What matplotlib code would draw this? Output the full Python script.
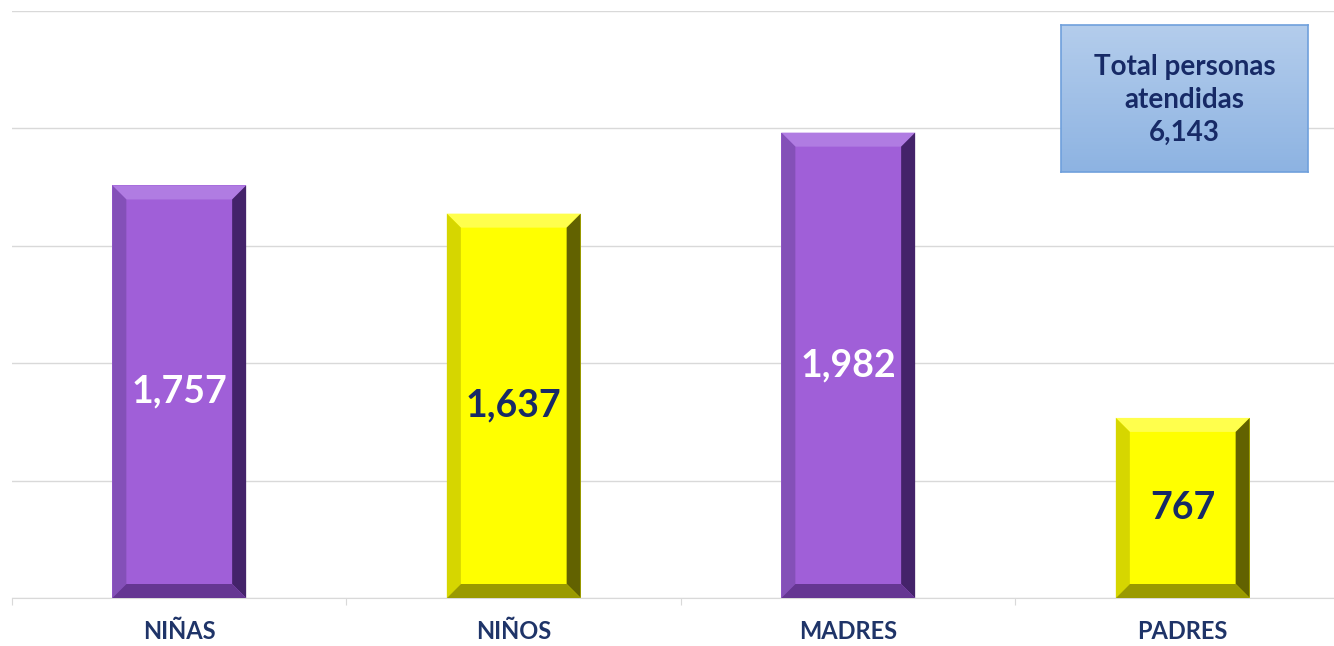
import matplotlib
matplotlib.use("Agg")
import matplotlib.pyplot as plt
import numpy as np
from matplotlib.patches import Polygon

categories = ["NIÑAS", "NIÑOS", "MADRES", "PADRES"]
values = [1757, 1637, 1982, 767]
total_label = "Total personas\natendidas\n6,143"

plt.rcParams['font.family'] = ['Lato', 'DejaVu Sans']

W, H = 1334, 646
fig = plt.figure(figsize=(W / 100, H / 100), dpi=100)
fig.patch.set_facecolor("white")

navy = "#172A66"
left_px, base_px, top_px = 12, 598, 11
ax = fig.add_axes([left_px / W, (H - base_px) / H, 1338 / W, (base_px - top_px) / H])
ax.set_xlim(-0.5, 3.5)
ax.set_ylim(0, 2500)
ax.set_yticks(np.arange(0, 2501, 500))
ax.set_yticklabels([])
ax.tick_params(axis="y", length=0)
ax.grid(axis="y", color="#D9D9D9", linewidth=1.0)
ax.set_axisbelow(True)
for s in ["top", "right", "left"]:
    ax.spines[s].set_visible(False)
ax.spines["bottom"].set_color("#D9D9D9")
ax.set_xticks(np.arange(-0.5, 3.6, 1.0), minor=False)
ax.set_xticklabels([])
ax.tick_params(axis="x", which="major", length=5, color="#D9D9D9")
ax.set_xticks(np.arange(4), minor=True)
ax.set_xticklabels(categories, minor=True)
ax.tick_params(axis="x", which="minor", length=0, pad=16, labelsize=17, labelcolor="#1F3468")
for t in ax.get_xticklabels(minor=True):
    t.set_fontweight("bold")

purple = {"face": "#A05FD8", "top": "#B07CE2", "left": "#8450B8", "right": "#44236A", "bottom": "#653692"}
yellow = {"face": "#FFFF00", "top": "#FFFF4D", "left": "#D6D600", "right": "#626200", "bottom": "#9A9A00"}
styles = [purple, yellow, purple, yellow]
text_colors = ["white", navy, "white", navy]

bar_w = 0.40
bars = ax.bar(np.arange(4), values, width=bar_w, color=[s["face"] for s in styles], zorder=2)

px_per_x = 1338 / 4.0
px_per_y = (base_px - top_px) / 2500.0
bx = 14 / px_per_x
by = 14 / px_per_y
for b, st, v, tc in zip(bars, styles, values, text_colors):
    x0 = b.get_x(); x1 = x0 + b.get_width()
    y0 = 0; y1 = b.get_height()
    ix0, ix1, iy0, iy1 = x0 + bx, x1 - bx, y0 + by, y1 - by
    polys = [
        ([(x0, y1), (x1, y1), (ix1, iy1), (ix0, iy1)], st["top"]),
        ([(x0, y0), (x0, y1), (ix0, iy1), (ix0, iy0)], st["left"]),
        ([(x1, y0), (x1, y1), (ix1, iy1), (ix1, iy0)], st["right"]),
        ([(x0, y0), (x1, y0), (ix1, iy0), (ix0, iy0)], st["bottom"]),
    ]
    for pts, c in polys:
        ax.add_patch(Polygon(pts, closed=True, facecolor=c, edgecolor="none", zorder=3))
    ax.text(b.get_x() + b.get_width() / 2, v / 2, f"{v:,}", ha="center", va="center",
            fontsize=27, fontweight="bold", color=tc, zorder=4)

# total box
bl, bt, br, bb = 1061, 25, 1308, 172
bax = fig.add_axes([bl / W, (H - bb) / H, (br - bl) / W, (bb - bt) / H])
grad = np.linspace(0, 1, 256).reshape(-1, 1)
c_top = np.array([0xB4, 0xCD, 0xEC]) / 255
c_bot = np.array([0x8D, 0xB3, 0xE2]) / 255
img = c_top[None, None, :] * (1 - grad[:, :, None]) + c_bot[None, None, :] * grad[:, :, None]
bax.imshow(img, aspect="auto", extent=[0, 1, 0, 1], origin="upper")
bax.set_xlim(0, 1); bax.set_ylim(0, 1)
bax.set_xticks([]); bax.set_yticks([])
for s in bax.spines.values():
    s.set_color("#6FA0DC"); s.set_linewidth(1.2)
bax.text(0.5, 0.49, total_label, ha="center", va="center", fontsize=20, fontweight="bold",
         color=navy, linespacing=1.32, transform=bax.transAxes)

fig.savefig("out.png", dpi=100)
